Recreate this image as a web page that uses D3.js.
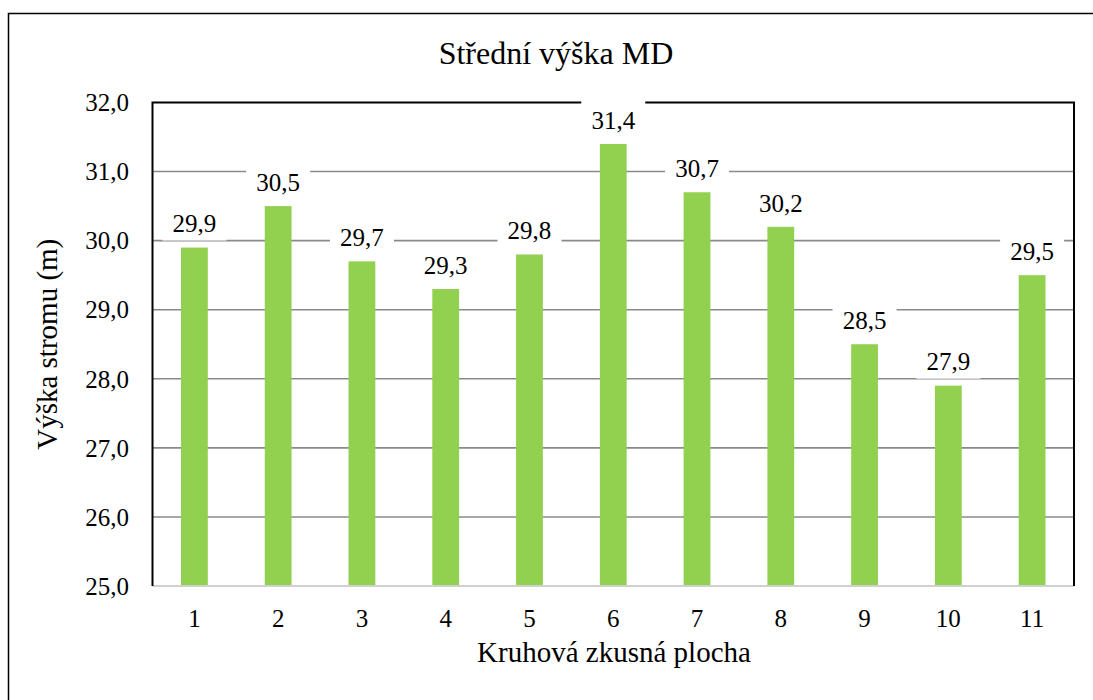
<!DOCTYPE html>
<html>
<head>
<meta charset="utf-8">
<script src="https://cdn.jsdelivr.net/npm/d3@7"></script>
<style>
  body { margin: 0; background: #fff; }
  text { font-family: "Liberation Serif", "Times New Roman", serif; fill: #000; }
</style>
</head>
<body>
<svg id="chart" width="1093" height="700"></svg>
<script>
// data
var plochy = ["1", "2", "3", "4", "5", "6", "7", "8", "9", "10", "11"];
var vysky = [29.9, 30.5, 29.7, 29.3, 29.8, 31.4, 30.7, 30.2, 28.5, 27.9, 29.5];
var yTicks = [25, 26, 27, 28, 29, 30, 31, 32];

var chartTitle = "Střední výška MD";
var xTitle = "Kruhová zkusná plocha";
var yTitle = "Výška stromu (m)";

function draw_chart() {
  var pLeft = 152.5, pRight = 1074, pTop = 102.5, pBottom = 586;

  var svg = d3.select("#chart");

  var x = d3.scaleBand()
    .domain(plochy)
    .range([pLeft, pRight])
    .paddingInner(0.68)
    .paddingOuter(0.34);

  var y = d3.scaleLinear()
    .domain([25, 32])
    .range([pBottom, pTop]);

  var fmt = function(v) { return d3.format(".1f")(v).replace(".", ","); };

  // outer frame (runs off the right and bottom edge)
  svg.append("rect")
    .attr("x", 8.5).attr("y", 13.5)
    .attr("width", 1100).attr("height", 700)
    .attr("fill", "none")
    .attr("stroke", "#000")
    .attr("stroke-width", 1.5);

  // gridlines
  svg.append("g")
    .selectAll("line")
    .data(yTicks.filter(function(t) { return t > 25 && t < 32; }))
    .enter()
    .append("line")
      .attr("x1", pLeft).attr("x2", pRight)
      .attr("y1", function(d) { return y(d); })
      .attr("y2", function(d) { return y(d); })
      .attr("stroke", "#8a8a8a")
      .attr("stroke-width", 1.6);

  // bars
  svg.append("g")
    .selectAll("rect")
    .data(vysky)
    .enter()
    .append("rect")
      .attr("x", function(d, i) { return x(plochy[i]); })
      .attr("y", function(d) { return y(d); })
      .attr("width", x.bandwidth())
      .attr("height", function(d) { return y(25) - y(d); })
      .attr("fill", "#92d050");

  // bottom axis line (light gray)
  svg.append("line")
    .attr("x1", pLeft).attr("x2", pRight)
    .attr("y1", pBottom).attr("y2", pBottom)
    .attr("stroke", "#d0d0d0")
    .attr("stroke-width", 2);

  // plot area border: top, left, right in black
  svg.append("path")
    .attr("d", "M" + pLeft + "," + pBottom + "V" + pTop + "H" + pRight + "V" + pBottom)
    .attr("fill", "none")
    .attr("stroke", "#000")
    .attr("stroke-width", 2);

  // y tick labels
  svg.append("g")
    .selectAll("text")
    .data(yTicks)
    .enter()
    .append("text")
      .attr("x", 129)
      .attr("y", function(d) { return y(d); })
      .attr("dy", "0.35em")
      .attr("text-anchor", "end")
      .style("font-size", "25px")
      .text(function(d) { return fmt(d); });

  // x tick labels
  svg.append("g")
    .selectAll("text")
    .data(plochy)
    .enter()
    .append("text")
      .attr("x", function(d) { return x(d) + x.bandwidth() / 2; })
      .attr("y", 618)
      .attr("dy", "0.35em")
      .attr("text-anchor", "middle")
      .style("font-size", "25px")
      .text(function(d) { return d; });

  // data labels with white boxes
  var labels = svg.append("g")
    .selectAll("g")
    .data(vysky)
    .enter()
    .append("g")
      .attr("transform", function(d, i) {
        return "translate(" + (x(plochy[i]) + x.bandwidth() / 2) + "," + (y(d) - 24) + ")";
      });

  labels.append("rect")
    .attr("x", -32).attr("y", -20)
    .attr("width", 64).attr("height", 37)
    .attr("fill", "#fff");

  labels.append("text")
    .attr("text-anchor", "middle")
    .attr("dy", "0.35em")
    .style("font-size", "25px")
    .text(function(d) { return fmt(d); });

  // titles
  svg.append("text")
    .attr("x", 556).attr("y", 64)
    .attr("text-anchor", "middle")
    .style("font-size", "32px")
    .text(chartTitle);

  svg.append("text")
    .attr("x", 614).attr("y", 662)
    .attr("text-anchor", "middle")
    .style("font-size", "29px")
    .text(xTitle);

  svg.append("text")
    .attr("transform", "translate(57," + ((pTop + pBottom) / 2) + ") rotate(-90)")
    .attr("text-anchor", "middle")
    .style("font-size", "29px")
    .text(yTitle);
}

draw_chart();
</script>
</body>
</html>
